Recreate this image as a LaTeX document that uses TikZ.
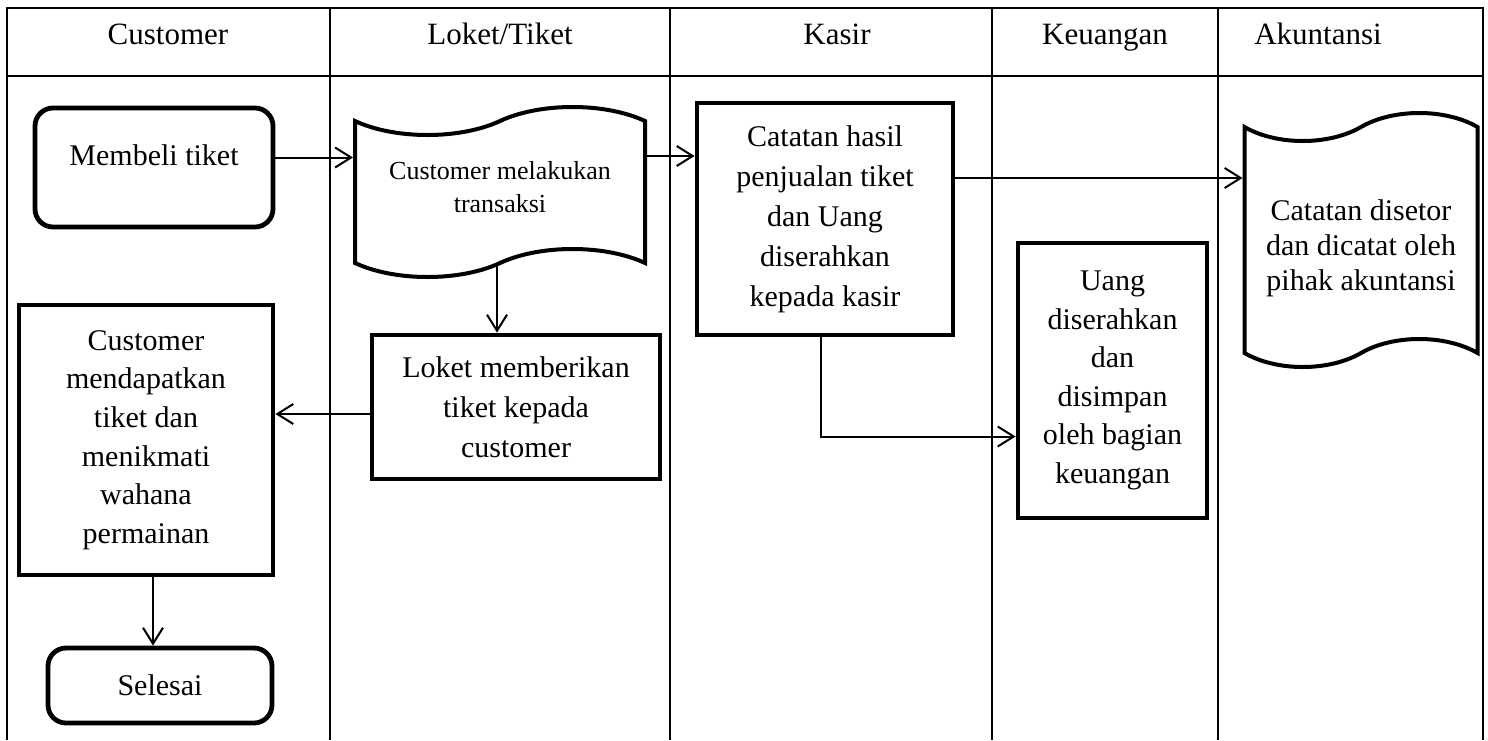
\documentclass[tikz,border=0pt]{standalone}
\usepackage{fontspec}
\setmainfont{Liberation Serif}
\usetikzlibrary{arrows.meta,shapes.symbols}

\begin{document}
\begin{tikzpicture}[x=0.5pt, y=-0.5pt,
    lane/.style={line width=1.1pt},
    head/.style={anchor=base, font=\fontsize{15.5pt}{19pt}\selectfont},
    terminal/.style={rectangle, draw, line width=2.4pt, rounded corners=9pt, align=center, font=\fontsize{15pt}{19.5pt}\selectfont},
    process/.style={rectangle, draw, line width=2.4pt, align=center, font=\fontsize{15pt}{20pt}\selectfont},
    record/.style={tape, draw, line width=2pt, tape bend height=14pt, align=center, font=\fontsize{15pt}{18pt}\selectfont},
    flow/.style={-{Straight Barb[length=8pt,width=10pt]}, line width=1pt}]

\useasboundingbox (0,0) rectangle (1488,740);

% Swimlane table
\draw[lane] (7,740) -- (7,8) -- (1483,8) -- (1483,740);
\draw[lane] (7,76) -- (1483,76);
\foreach \xlane in {330,670,992,1218}
  \draw[lane] (\xlane,8) -- (\xlane,740);

% Lane headings
\node[head] (hcust) at (168,44) {Customer};
\node[head] (hloket) at (500,44) {Loket/Tiket};
\node[head] (hkasir) at (837,44) {Kasir};
\node[head] (hkeu) at (1105,44) {Keuangan};
\node[head] (hakun) at (1318,44) {Akuntansi};

% Customer lane
\node[terminal, minimum width=119pt, minimum height=59.5pt] (beli) at (154,167.5) {Membeli tiket\rule[-12pt]{0pt}{12pt}};
\node[process, font=\fontsize{15pt}{19.3pt}\selectfont, minimum width=127pt, minimum height=135pt] (dapat) at (146,440) {Customer\\mendapatkan\\tiket dan\\menikmati\\wahana\\permainan};
\node[terminal, minimum width=112pt, minimum height=37.5pt] (selesai) at (160,685.5) {Selesai};

% Loket/Tiket lane
\node[record, font=\fontsize{13pt}{16.5pt}\selectfont, minimum width=145pt, minimum height=85pt] (transaksi) at (500,192) {Customer melakukan\\transaksi\rule[-5.5pt]{0pt}{5.5pt}};
\node[process, minimum width=144pt, minimum height=72pt] (beri) at (516,407) {Loket memberikan\\tiket kepada\\customer};

% Kasir lane
\node[process, minimum width=128pt, minimum height=116pt] (hasil) at (825,219) {Catatan hasil\\penjualan tiket\\dan Uang\\diserahkan\\kepada kasir};

% Keuangan lane
\node[process, font=\fontsize{15pt}{19.3pt}\selectfont, minimum width=94.5pt, minimum height=137.5pt] (simpan) at (1112.5,380.5) {Uang\\diserahkan\\dan\\disimpan\\oleh bagian\\keuangan};

% Akuntansi lane
\node[record, font=\fontsize{15pt}{17.5pt}\selectfont, minimum width=116.5pt, minimum height=127pt] (setor) at (1361,240) {\rule{0pt}{18.3pt}Catatan disetor\\dan dicatat oleh\\pihak akuntansi};

% Connections
\draw[flow] ([yshift=5pt]beli.east) -- ([yshift=5pt]beli.east -| transaksi.west);
\draw[flow] ([yshift=18pt]transaksi.east) -- ([yshift=18pt]transaksi.east -| hasil.west);
\draw[flow] ([yshift=20.5pt]hasil.east) -- ([yshift=20.5pt]hasil.east -| setor.west);
\draw[flow] ([xshift=-2pt]hasil.south) |- ([yshift=-28pt]simpan.west);
\draw[flow] ([xshift=-1.5pt]transaksi.south) -- ([xshift=-1.5pt]transaksi.south |- beri.north);
\draw[flow] ([yshift=-3.5pt]beri.west) -- ([yshift=-3.5pt]beri.west -| dapat.east);
\draw[flow] ([xshift=3.5pt]dapat.south) -- ([xshift=3.5pt]dapat.south |- selesai.north);

\end{tikzpicture}
\end{document}
